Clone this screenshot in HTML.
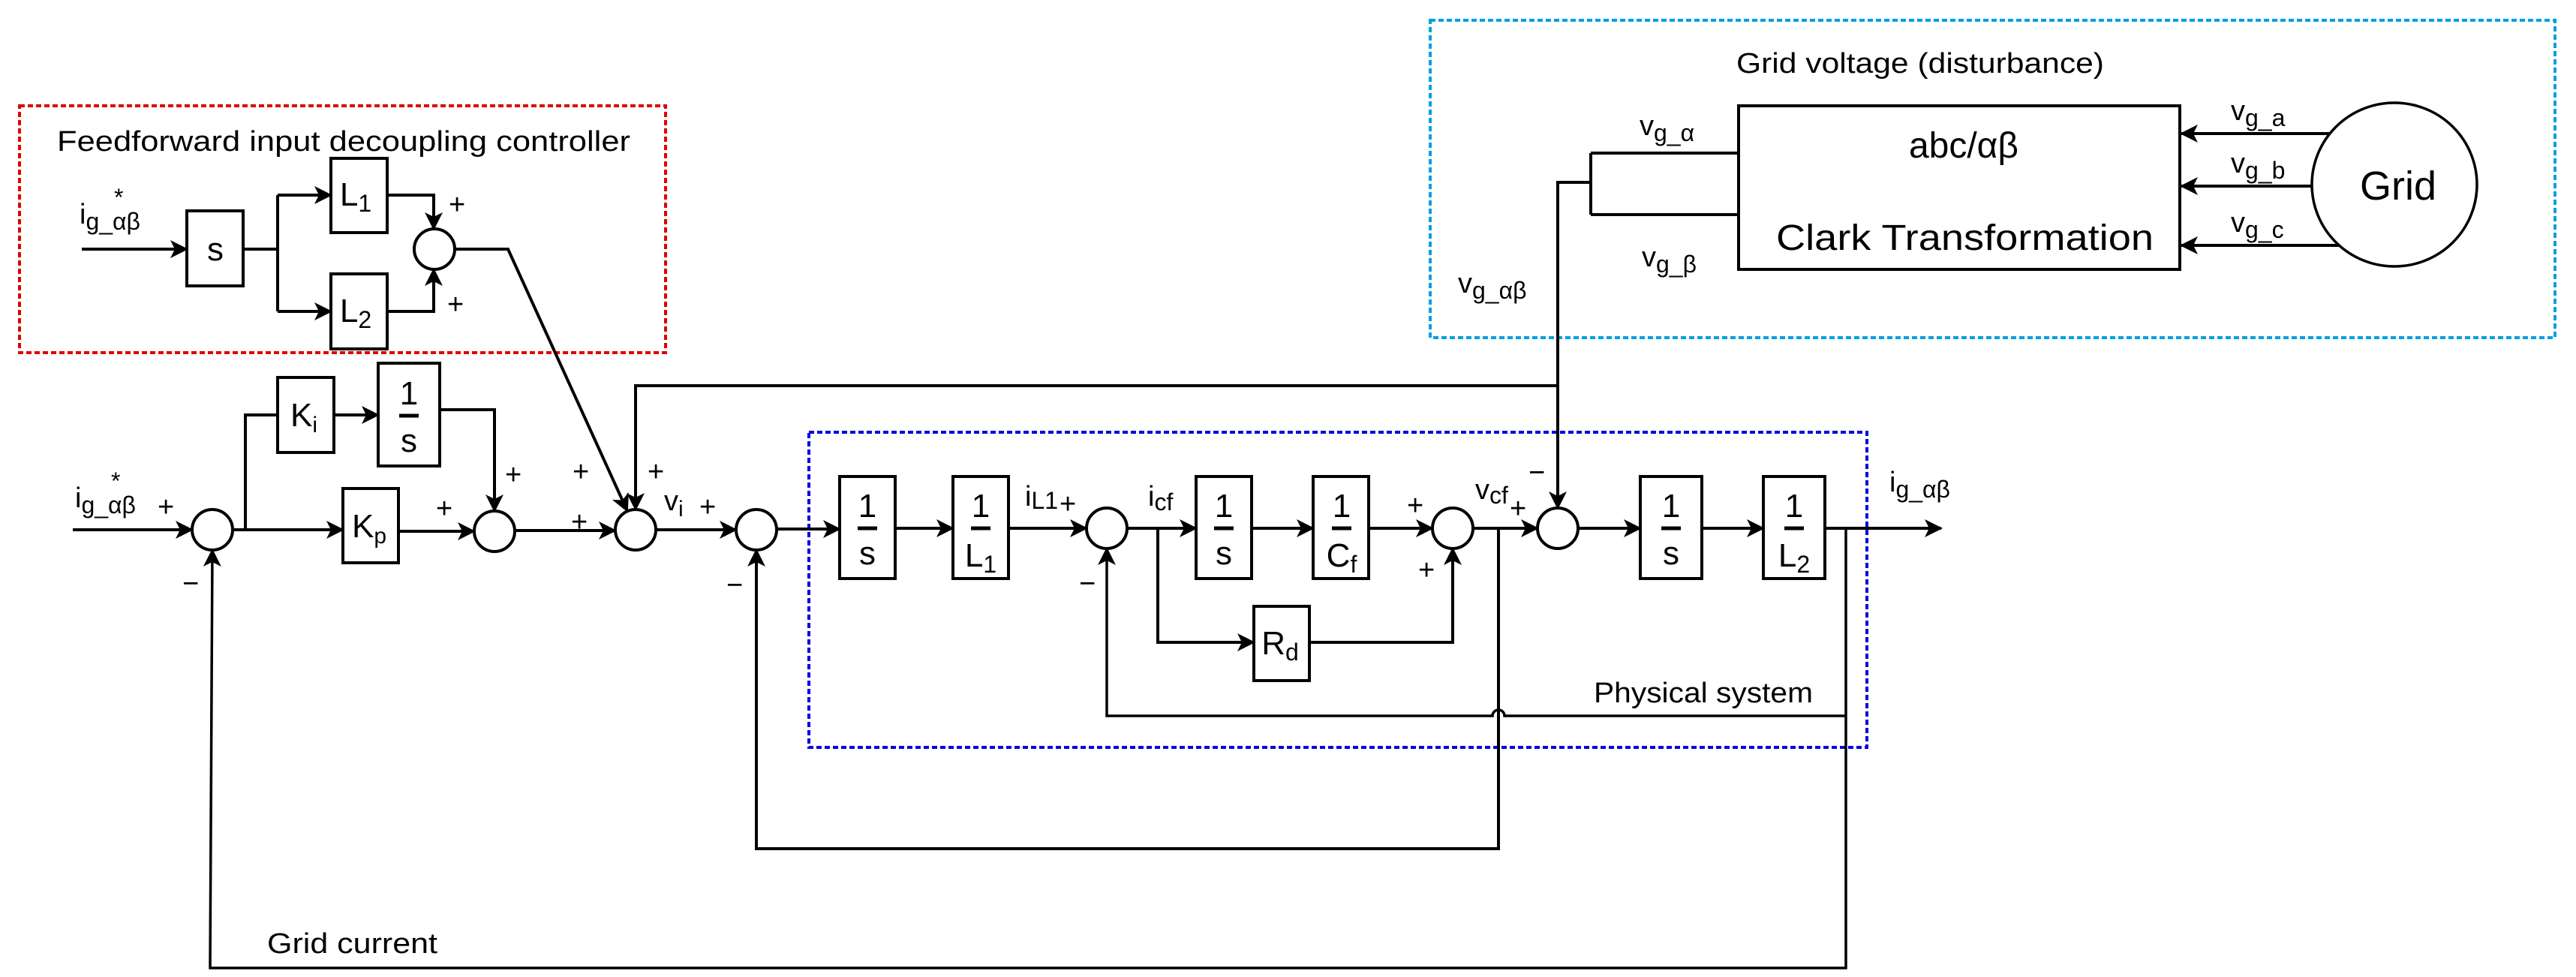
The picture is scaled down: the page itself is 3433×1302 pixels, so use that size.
<!DOCTYPE html>
<html><head><meta charset="utf-8"><style>
html,body{margin:0;padding:0;background:#fff;}
svg{display:block;}
text{font-family:"Liberation Sans",sans-serif;fill:#000;}
</style></head><body>
<svg width="3433" height="1302" viewBox="0 0 3433 1302" xmlns="http://www.w3.org/2000/svg">
<defs>
<marker id="a" markerWidth="24" markerHeight="24" refX="22" refY="12" orient="auto" markerUnits="userSpaceOnUse">
<path d="M0,0 L24,12 L0,24 L6,12 Z" fill="#000"/>
</marker>
</defs>
<g fill="none" stroke-width="4">
<rect x="26" y="141" width="861" height="329" stroke="#e00000" stroke-dasharray="7,4"/>
<rect x="1906" y="27" width="1499" height="423" stroke="#00a0e0" stroke-dasharray="7,4"/>
<rect x="1078" y="576" width="1410" height="420" stroke="#0000e0" stroke-dasharray="7,4"/>
</g>
<g fill="none" stroke="#000" stroke-width="4">
<rect x="249" y="281" width="75" height="100"/>
<rect x="441" y="211" width="75" height="99"/>
<rect x="441" y="365" width="75" height="100"/>
<rect x="370" y="503" width="75" height="100"/>
<rect x="504" y="484" width="82" height="137"/>
<rect x="457" y="651" width="74" height="99"/>
<rect x="1119" y="635" width="74" height="136"/>
<rect x="1270" y="635" width="74" height="136"/>
<rect x="1594" y="635" width="74" height="136"/>
<rect x="1750" y="635" width="74" height="136"/>
<rect x="1671" y="808" width="74" height="99"/>
<rect x="2186" y="635" width="82" height="136"/>
<rect x="2350" y="635" width="82" height="136"/>
<rect x="2317" y="141" width="588" height="218"/>
<ellipse cx="3191" cy="246" rx="110" ry="109" stroke-width="3.5"/>
<circle cx="579" cy="332" r="27"/>
<circle cx="283" cy="706" r="27"/>
<circle cx="659" cy="708" r="27"/>
<circle cx="847" cy="706" r="27"/>
<circle cx="1008" cy="706" r="27"/>
<circle cx="1475" cy="704" r="27"/>
<circle cx="1936" cy="704" r="27"/>
<circle cx="2076" cy="704" r="27"/>
<line x1="109" y1="332" x2="249" y2="332" marker-end="url(#a)"/>
<polyline points="324,332 370,332"/>
<line x1="370" y1="260" x2="370" y2="415"/>
<line x1="370" y1="260" x2="441" y2="260" marker-end="url(#a)"/>
<line x1="370" y1="415" x2="441" y2="415" marker-end="url(#a)"/>
<polyline points="516,260 578,260 578,305" marker-end="url(#a)"/>
<polyline points="516,415 578,415 578,359" marker-end="url(#a)"/>
<polyline points="606,332 677,332 836,681" marker-end="url(#a)"/>
<line x1="97" y1="706" x2="256" y2="706" marker-end="url(#a)"/>
<polyline points="327,706 327,553 370,553"/>
<line x1="445" y1="553" x2="504" y2="553" marker-end="url(#a)"/>
<polyline points="586,546 659,546 659,681" marker-end="url(#a)"/>
<line x1="310" y1="706" x2="457" y2="706" marker-end="url(#a)"/>
<line x1="531" y1="708" x2="632" y2="708" marker-end="url(#a)"/>
<line x1="686" y1="707" x2="820" y2="707" marker-end="url(#a)"/>
<polyline points="2076,514 847,514 847,679" marker-end="url(#a)"/>
<line x1="874" y1="706" x2="981" y2="706" marker-end="url(#a)"/>
<line x1="1035" y1="705" x2="1119" y2="705" marker-end="url(#a)"/>
<line x1="1193" y1="704" x2="1270" y2="704" marker-end="url(#a)"/>
<line x1="1344" y1="704" x2="1448" y2="704" marker-end="url(#a)"/>
<line x1="1502" y1="704" x2="1594" y2="704" marker-end="url(#a)"/>
<line x1="1668" y1="704" x2="1750" y2="704" marker-end="url(#a)"/>
<line x1="1824" y1="704" x2="1909" y2="704" marker-end="url(#a)"/>
<polyline points="1543,704 1543,856 1671,856" marker-end="url(#a)"/>
<polyline points="1745,856 1936,856 1936,731" marker-end="url(#a)"/>
<line x1="1963" y1="704" x2="2049" y2="704" marker-end="url(#a)"/>
<polyline points="1997,704 1997,1131 1008,1131 1008,733" marker-end="url(#a)"/>
<line x1="2103" y1="704" x2="2186" y2="704" marker-end="url(#a)"/>
<line x1="2268" y1="704" x2="2350" y2="704" marker-end="url(#a)"/>
<line x1="2432" y1="704" x2="2587" y2="704" marker-end="url(#a)"/>
<polyline points="2460,704 2460,1290 280,1290 283,733" marker-end="url(#a)" stroke-width="3.5"/>
<path d="M2460,954 L2005,954 A8,8 0 0 0 1989,954 L1475,954 L1475,731" marker-end="url(#a)" stroke-width="3.5"/>
<polyline points="2120,243 2076,243 2076,677" marker-end="url(#a)"/>
<line x1="2120" y1="204" x2="2120" y2="286"/>
<line x1="2120" y1="204" x2="2317" y2="204"/>
<line x1="2120" y1="286" x2="2317" y2="286"/>
<line x1="3105" y1="178" x2="2907" y2="178" marker-end="url(#a)"/>
<line x1="3081" y1="248" x2="2907" y2="248" marker-end="url(#a)"/>
<line x1="3117" y1="327" x2="2907" y2="327" marker-end="url(#a)"/>
</g>
<g stroke="#000" stroke-width="5">
<line x1="1143" y1="704" x2="1169" y2="704"/>
<line x1="1294" y1="704" x2="1320" y2="704"/>
<line x1="1618" y1="704" x2="1644" y2="704"/>
<line x1="1775" y1="704" x2="1801" y2="704"/>
<line x1="2214" y1="704" x2="2240" y2="704"/>
<line x1="2378" y1="704" x2="2404" y2="704"/>
<line x1="532" y1="554" x2="558" y2="554"/>
</g>
<g font-size="44" text-anchor="middle">
<text x="1156" y="689">1</text><text x="1156" y="752">s</text>
<text x="1307" y="689">1</text><text x="1307" y="755">L<tspan font-size="32" dy="8">1</tspan></text>
<text x="1631" y="689">1</text><text x="1631" y="752">s</text>
<text x="1788" y="689">1</text><text x="1788" y="755">C<tspan font-size="32" dy="8">f</tspan></text>
<text x="2227" y="689">1</text><text x="2227" y="752">s</text>
<text x="2391" y="689">1</text><text x="2391" y="755">L<tspan font-size="32" dy="8">2</tspan></text>
<text x="545" y="539">1</text><text x="545" y="602">s</text>
<text x="287" y="347">s</text>
<text x="474" y="274">L<tspan font-size="32" dy="8">1</tspan></text>
<text x="474" y="429">L<tspan font-size="32" dy="8">2</tspan></text>
<text x="405" y="568">K<tspan font-size="30" dy="8">i</tspan></text>
<text x="492" y="716">K<tspan font-size="30" dy="8">p</tspan></text>
<text x="1706" y="872">R<tspan font-size="32" dy="8">d</tspan></text>
</g>
<g font-size="38">
<text x="76" y="201" textLength="764" lengthAdjust="spacingAndGlyphs">Feedforward input decoupling controller</text>
<text x="2314" y="97" textLength="490" lengthAdjust="spacingAndGlyphs">Grid voltage (disturbance)</text>
<text x="2124" y="936" textLength="292" lengthAdjust="spacingAndGlyphs">Physical system</text>
<text x="356" y="1270" textLength="227" lengthAdjust="spacingAndGlyphs">Grid current</text>
<text x="2617" y="210" font-size="48" text-anchor="middle">abc/αβ</text>
<text x="2367" y="333" font-size="48" textLength="503" lengthAdjust="spacingAndGlyphs">Clark Transformation</text>
<text x="3196" y="266" font-size="54" text-anchor="middle">Grid</text>
<text x="106" y="298">i<tspan font-size="32" dy="8">g_αβ</tspan></text>
<text x="152" y="274" font-size="32">*</text>
<text x="100" y="676">i<tspan font-size="32" dy="8">g_αβ</tspan></text>
<text x="148" y="652" font-size="32">*</text>
<text x="885" y="680">v<tspan font-size="30" dy="8">i</tspan></text>
<text x="1366" y="674">i<tspan font-size="32" dy="4">L1</tspan></text>
<text x="1530" y="674">i<tspan font-size="32" dy="6">cf</tspan></text>
<text x="1966" y="665">v<tspan font-size="32" dy="6">cf</tspan></text>
<text x="2518" y="655">i<tspan font-size="32" dy="8">g_αβ</tspan></text>
<text x="2185" y="180">v<tspan font-size="32" dy="8">g_α</tspan></text>
<text x="2188" y="355">v<tspan font-size="32" dy="8">g_β</tspan></text>
<text x="1943" y="390">v<tspan font-size="32" dy="8">g_αβ</tspan></text>
<text x="2973" y="160">v<tspan font-size="32" dy="8">g_a</tspan></text>
<text x="2973" y="230">v<tspan font-size="32" dy="8">g_b</tspan></text>
<text x="2973" y="309">v<tspan font-size="32" dy="8">g_c</tspan></text>
<text x="598" y="285">+</text>
<text x="596" y="418">+</text>
<text x="210" y="688">+</text>
<text x="243" y="790">−</text>
<text x="673" y="645">+</text>
<text x="581" y="690">+</text>
<text x="763" y="641">+</text>
<text x="863" y="641">+</text>
<text x="761" y="708">+</text>
<text x="932" y="688">+</text>
<text x="968" y="792">−</text>
<text x="1412" y="684">+</text>
<text x="1438" y="790">−</text>
<text x="1875" y="686">+</text>
<text x="1890" y="772">+</text>
<text x="2012" y="690">+</text>
<text x="2037" y="642">−</text>
</g>
</svg>
</body></html>
